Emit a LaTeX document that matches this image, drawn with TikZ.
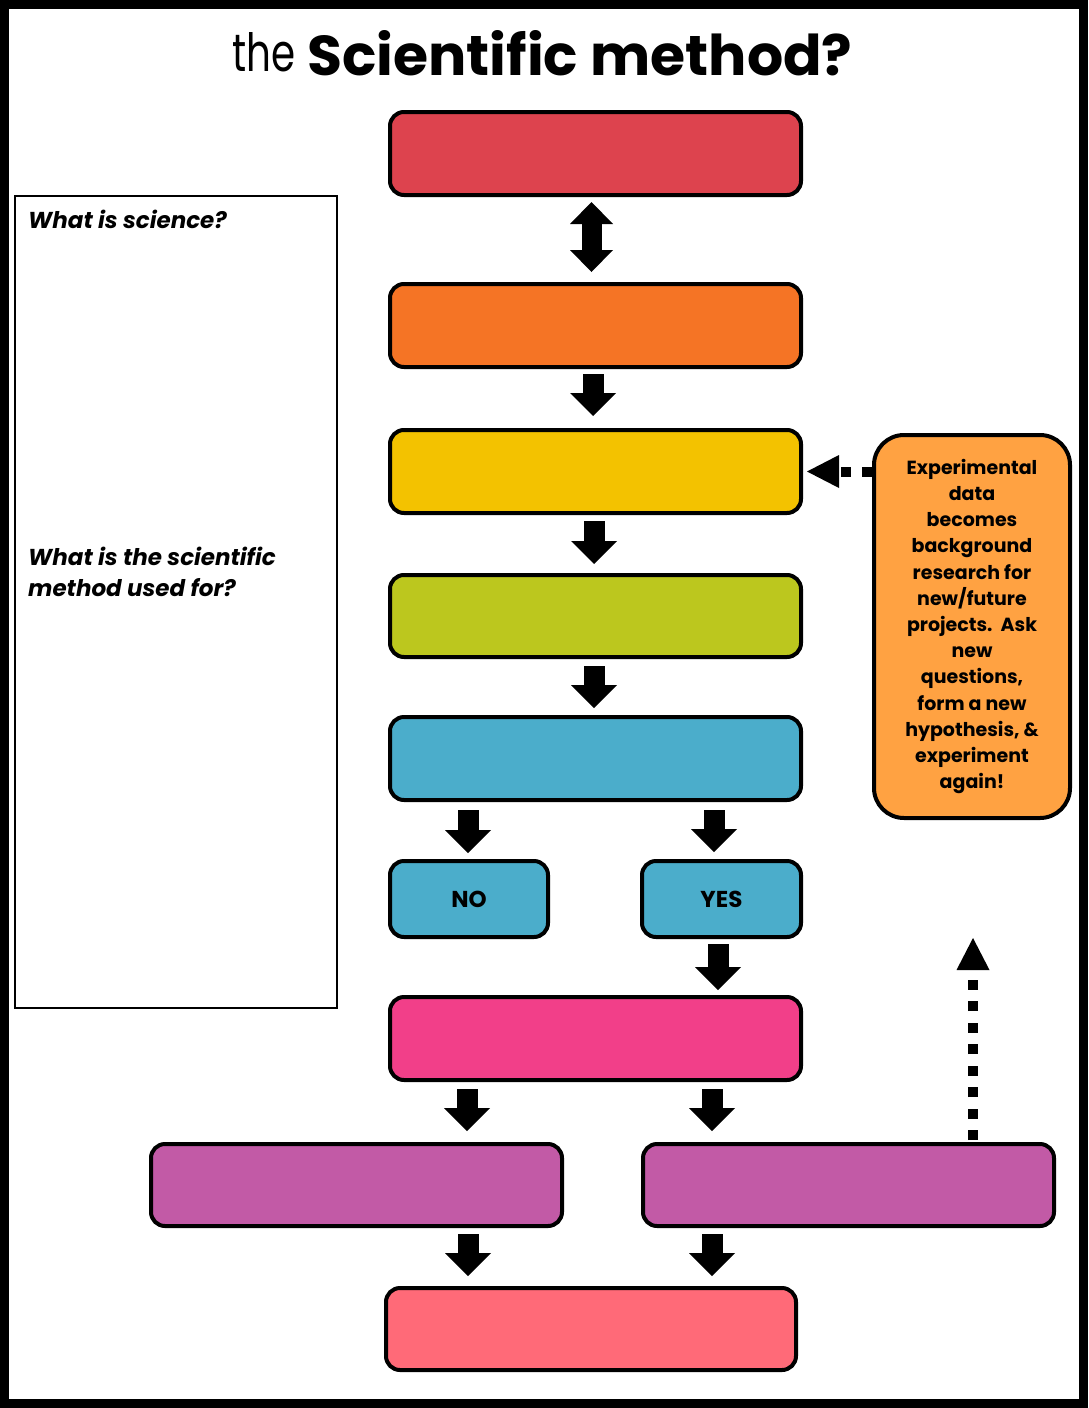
\documentclass[tikz,border=0pt]{standalone}
\usepackage{fontspec}
\usepackage{graphicx}
\setmainfont{Poppins}
\usetikzlibrary{arrows.meta,calc}
\definecolor{cred}{RGB}{221,67,78}
\definecolor{corange}{RGB}{245,116,37}
\definecolor{cyellow}{RGB}{243,194,0}
\definecolor{clime}{RGB}{188,199,30}
\definecolor{cblue}{RGB}{75,173,203}
\definecolor{cpink}{RGB}{242,63,137}
\definecolor{cpurple}{RGB}{194,90,166}
\definecolor{csalmon}{RGB}{255,106,120}
\definecolor{cnote}{RGB}{255,162,66}
\begin{document}
\begin{tikzpicture}[x=1pt,y=-1pt,
  flowbox/.style={draw=black, line width=4pt, rounded corners=14pt, inner sep=0pt,
    minimum width=411pt, minimum height=83pt},
  blk/.style={line width=21pt, -{Triangle[length=23pt,width=46pt,line width=0pt]}},
  dblk/.style={line width=20pt, {Triangle[length=22pt,width=43pt,line width=0pt]}-{Triangle[length=22pt,width=43pt,line width=0pt]}},
  dasharrow/.style={line width=10pt, dash pattern=on 10pt off 11.5pt,
    -{Triangle[length=32pt,width=33pt,line width=0pt]}},
  lbl/.style={font=\bfseries\fontsize{23}{26}\selectfont},
  qfont/.style={font=\bfseries\itshape\fontsize{23}{31}\selectfont, inner sep=0pt}
]
\useasboundingbox (0,0) rectangle (1088,1408);
\fill[black] (0,0) rectangle (1088,1408);
\fill[white] (9,9) rectangle (1079,1399);

% title
\node[anchor=base west, inner sep=0pt] (tthe) at (232,71) {\resizebox{63pt}{39pt}{the}};
\node[anchor=base west, inner sep=0pt] (tmain) at (307,75) {\resizebox{545pt}{45pt}{\bfseries Scientific method?}};

% left question box
\node[draw=black, line width=1.5pt, minimum width=322pt, minimum height=812pt, inner sep=0pt] (qbox) at (176,602) {};
\node[anchor=base west, qfont] (q1) at (28,228) {What is science?};
\node[anchor=base west, qfont, align=left] (q2) at (28,596) {What is the scientific\\method used for?};

% flow boxes
\node[flowbox, fill=cred] (red) at (595.5,153.5) {};
\node[flowbox, fill=corange] (orange) at (595.5,325.5) {};
\node[flowbox, fill=cyellow] (yellow) at (595.5,471.5) {};
\node[flowbox, fill=clime, minimum height=82pt] (lime) at (595.5,616) {};
\node[flowbox, fill=cblue] (blue) at (595.5,758.5) {};
\node[flowbox, fill=cblue, lbl, minimum width=158pt, minimum height=76pt] (no) at (469,899) {NO};
\node[flowbox, fill=cblue, lbl, minimum width=159pt, minimum height=76pt] (yes) at (721.5,899) {YES};
\node[flowbox, fill=cpink] (pink) at (595.5,1038.5) {};
\node[flowbox, fill=cpurple, minimum height=82pt] (purpleL) at (356.5,1185) {};
\node[flowbox, fill=cpurple, minimum height=82pt] (purpleR) at (848.5,1185) {};
\node[flowbox, fill=csalmon, minimum width=410pt, minimum height=82pt] (salmon) at (591,1329) {};

% note
\node[draw=black, line width=4pt, rounded corners=30pt, fill=cnote, minimum width=196pt,
  minimum height=383pt, inner sep=0pt, align=center,
  font=\bfseries\fontsize{19}{26.2}\selectfont] (note) at (972,626.5)
  {Experimental\\data\\becomes\\background\\research for\\new/future\\projects.\ \ Ask\\new\\questions,\\form a new\\hypothesis, \&\\experiment\\again!};

% block arrows
\draw[dblk] ($(red.south)+(-4,5)$) -- ($(orange.north)+(-4,-10)$);
\draw[blk] ($(orange.south)+(-2.5,5)$) -- ($(yellow.north)+(-2.5,-12)$);
\draw[blk] ($(yellow.south)+(-1.5,6)$) -- ($(lime.north)+(-1.5,-9)$);
\draw[blk] ($(lime.south)+(-1.5,7)$) -- ($(blue.north)+(-1.5,-7)$);
\draw[blk] ($(no.north |- blue.south)+(-1,8)$) -- ($(no.north)+(-1,-6)$);
\draw[blk] ($(yes.north |- blue.south)+(-7.5,8)$) -- ($(yes.north)+(-7.5,-7)$);
\draw[blk] ($(yes.south)+(-3.5,5)$) -- ($(pink.north |- yes.south)+(122.5,51)$);
\draw[blk] ($(pink.south)+(-128.5,7)$) -- ($(purpleL.north)+(110.5,-11)$);
\draw[blk] ($(pink.south)+(116.5,7)$) -- ($(purpleR.north)+(-136.5,-11)$);
\draw[blk] ($(purpleL.south)+(111.5,6)$) -- ($(salmon.north)+(-123,-10)$);
\draw[blk] ($(purpleR.south)+(-136.5,6)$) -- ($(salmon.north)+(121,-10)$);

% dashed arrows
\coordinate (loopTop) at (973,938);
\draw[dasharrow] (note.west |- yellow.east) -- ($(yellow.east)+(4,0)$);
\draw[dasharrow] ($(purpleR.north)+(124.5,-2)$) -- (loopTop);
\end{tikzpicture}
\end{document}
